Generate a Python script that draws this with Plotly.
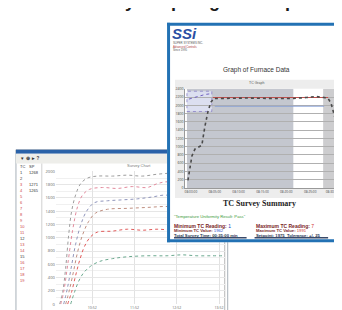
import plotly.graph_objects as go

W, H = 342, 310

# ---------------- data: back window (survey curves) ----------------
back_names = ["TC 1", "TC 2", "TC 3", "TC 4", "TC 5", "TC 6"]
back_colors = ["#9c9c9c", "#e28a9c", "#8f95bb", "#bf8f80", "#e05a5a", "#6aa88e"]
back_x = [
    [5.6, 9.9, 14.1, 18.4, 22.6, 28.2, 35.3, 45.2, 59.3, 80.5, 101.7, 122.9, 144.1, 165.3, 186.4, 214.7, 240],
    [7.1, 11.3, 16.9, 24.0, 31.1, 38.1, 48.0, 66.4, 87.5, 108.7, 129.9, 144.0, 158.1, 179.3, 200.5, 221.7, 240],
    [11.3, 16.9, 22.6, 28.2, 35.3, 43.8, 55.1, 73.4, 94.6, 115.8, 136.9, 155.3, 179.3, 207.6, 240],
    [14.1, 19.8, 25.4, 31.1, 38.1, 46.6, 56.5, 73.4, 101.7, 129.9, 158.1, 186.4, 214.7, 240],
    [16.9, 22.6, 28.2, 33.9, 40.9, 49.4, 59.3, 80.5, 101.7, 122.9, 144.0, 165.2, 193.4, 221.7, 240],
    [21.2, 26.8, 32.5, 39.5, 49.4, 62.1, 80.5, 101.7, 129.9, 158.1, 179.3, 200.5, 221.7, 240],
]
back_y = [
    [0, 186, 543, 1043, 1400, 1643, 1814, 1900, 1929, 1929, 1943, 1929, 1957, 1971, 1943, 1929, 1929],
    [0, 186, 586, 1114, 1471, 1643, 1729, 1757, 1743, 1771, 1757, 1814, 1843, 1800, 1757, 1771, 1757],
    [0, 257, 586, 900, 1186, 1400, 1529, 1557, 1571, 1586, 1614, 1643, 1600, 1571, 1571],
    [0, 229, 500, 786, 1043, 1243, 1371, 1429, 1443, 1457, 1471, 1443, 1443, 1443],
    [0, 186, 429, 657, 871, 1014, 1086, 1100, 1129, 1114, 1129, 1114, 1100, 1114, 1114],
    [0, 186, 343, 471, 571, 643, 686, 714, 729, 729, 743, 729, 729, 729],
]
back_xtick_vals = [52, 112, 172, 232]
back_xtick_text = ["10:52", "11:52", "12:52", "13:52"]
list_col1 = ["TC", "1", "2", "3", "4", "5", "6", "7", "8", "9", "10", "11", "12", "13", "14", "15", "16", "17", "18", "19"]
list_col2 = ["SP", "1268", "", "1271", "1265", "", "", "", "", "", "", "", "", "", "", "", "", "", "", ""]
list_red = [False, False, False, True, True, True, True, True, True, True, True, True, False, True, True, False, True, True, True, True]

# ---------------- data: front report chart ----------------
tc_x = [3, 5, 7, 10, 14, 17, 20, 23, 26, 29, 37, 62, 87, 109, 122, 132, 140, 144, 147, 150, 152]
tc_y = [188, 471, 776, 941, 988, 1035, 1482, 1835, 2071, 2165, 2165, 2176, 2165, 2165, 2188, 2212, 2188, 2165, 2047, 1812, 1600]
hi_x = [28, 144]
hi_y = [2188, 2188]
lo_x = [30, 140]
lo_y = [1976, 1976]
ramp_x = [4, 9, 14, 20, 26]
ramp_y = [2150, 2190, 2230, 2260, 2280]
zone_start = [2, 139]
zone_end = [109, 152]
zone_color = ["#c4c7cf", "#cdcdcf"]
front_xtick_vals = [6, 30, 54, 78, 102, 126, 148]
front_xtick_text = ["08:00:00", "08:05:00", "08:10:00", "08:15:00", "08:20:00", "08:25:00", "08:30:00"]


def px(x):
    return x / W


def py(y):
    return 1 - y / H


fig = go.Figure()

# back chart traces
for name, color, xs, ys in zip(back_names, back_colors, back_x, back_y):
    fig.add_trace(go.Scatter(x=xs, y=ys, mode="lines", name=name,
                             line=dict(color=color, width=1, dash="dot", shape="spline"),
                             xaxis="x", yaxis="y", hoverinfo="skip"))

# panel subplot (front white sheet) - empty trace to create subplot
fig.add_trace(go.Scatter(x=[], y=[], mode="lines", xaxis="x2", yaxis="y2", hoverinfo="skip"))

# front chart traces
fig.add_trace(go.Scatter(x=hi_x, y=hi_y, mode="lines", line=dict(color="#c0504d", width=1.2),
                         xaxis="x3", yaxis="y3", hoverinfo="skip"))
fig.add_trace(go.Scatter(x=lo_x, y=lo_y, mode="lines", line=dict(color="#7f9ad6", width=0.8),
                         xaxis="x3", yaxis="y3", hoverinfo="skip"))
fig.add_trace(go.Scatter(x=ramp_x, y=ramp_y, mode="lines", line=dict(color="#7060c0", width=1, dash="dot"),
                         xaxis="x3", yaxis="y3", hoverinfo="skip"))
fig.add_trace(go.Scatter(x=tc_x, y=tc_y, mode="lines", line=dict(color="#4a4a4a", width=1.6, dash="dot"),
                         xaxis="x3", yaxis="y3", hoverinfo="skip"))

shapes = []
# back window (paper, below)
shapes.append(dict(type="rect", xref="paper", yref="paper", x0=px(8), x1=px(221), y0=py(309), y1=py(141),
                   fillcolor="#ffffff", line=dict(color="#a8b0b8", width=1), layer="below"))
shapes.append(dict(type="rect", xref="paper", yref="paper", x0=px(8), x1=px(221), y0=py(145), y1=py(141),
                   fillcolor="#2a62a8", line=dict(width=0), layer="below"))
shapes.append(dict(type="rect", xref="paper", yref="paper", x0=px(8), x1=px(221), y0=py(155), y1=py(145),
                   fillcolor="#eeeeea", line=dict(width=0), layer="below"))
shapes.append(dict(type="line", xref="paper", yref="paper", x0=px(34), x1=px(34), y0=py(305), y1=py(155),
                   line=dict(color="#d0d0d0", width=1), layer="below"))
shapes.append(dict(type="line", xref="paper", yref="paper", x0=px(218), x1=px(218), y0=py(305), y1=py(155),
                   line=dict(color="#b8b8b8", width=1), layer="below"))

# panel decorations (x2/y2 in pixel units)
shapes.append(dict(type="rect", xref="x2", yref="y2", x0=168, x1=334, y0=70, y1=190,
                   fillcolor="#ededed", line=dict(width=0), layer="below"))
shapes.append(dict(type="line", xref="x2", yref="y2", x0=167, x1=240, y0=230.5, y1=230.5,
                   line=dict(color="#3a4a6a", width=1.5), layer="below"))
shapes.append(dict(type="line", xref="x2", yref="y2", x0=248, x1=322, y0=230.5, y1=230.5,
                   line=dict(color="#3a4a6a", width=1.5), layer="below"))

# front chart zones
for s, e, c in zip(zone_start, zone_end, zone_color):
    shapes.append(dict(type="rect", xref="x3", yref="y3", x0=s, x1=e, y0=0, y1=2400,
                       fillcolor=c, line=dict(width=0), layer="below"))
shapes.append(dict(type="rect", xref="x3", yref="y3", x0=zone_start[0], x1=27, y0=1850, y1=2340,
                   fillcolor="#dcdff0", line=dict(color="#8a80c8", width=0.8, dash="dot"), layer="below"))

# front panel blue border (above)
for (x0, y0, x1, y1) in [(160, 13.5, 342, 13.5), (161.5, 12, 161.5, 235), (160, 233.5, 342, 233.5)]:
    shapes.append(dict(type="line", xref="paper", yref="paper", x0=px(x0), x1=px(x1), y0=py(y0), y1=py(y1),
                       line=dict(color="#2372b4", width=3), layer="above"))

annotations = []


def ann(text, x, y, size, color, xanchor="left", family="Liberation Sans", yanchor="middle"):
    annotations.append(dict(text=text, x=px(x), y=py(y), xref="paper", yref="paper",
                            xanchor=xanchor, yanchor=yanchor, showarrow=False,
                            font=dict(size=size, color=color, family=family), borderpad=0))


# top heading (mostly cut off at the top edge, as in the reference)
ann("<b>Survey Graphing and Reports</b>", 196, 1.5, 18, "#1a1a1a", xanchor="center", yanchor="bottom")

# back window texts
ann("<b>▼ ⊕  ▸ ?</b>", 11, 150, 4.5, "#333333")
for i, (a, b, red) in enumerate(zip(list_col1, list_col2, list_red)):
    yy = 158 + i * 6.1
    col = "#cc4040" if red else "#333333"
    ann(a, 11, yy, 4, col)
    if b:
        ann(b, 20, yy, 4, "#333333")
ann("Survey Chart", 132, 157, 4, "#777777", xanchor="center")

# front panel texts
ann("<b><i>SSi</i></b>", 164, 23, 15, "#2b4fa3")
ann("SUPER SYSTEMS INC.", 165, 33, 2.8, "#555555")
ann("Advanced Controls", 165, 36.5, 2.8, "#b04040")
ann("Since 1995", 165, 40, 2.8, "#555555")
ann("Graph of Furnace Data", 250, 60, 6.5, "#333333", xanchor="center")
ann("TC Graph", 250, 73.5, 3.5, "#555555", xanchor="center")
ann("<b>TC Survey Summary</b>", 253, 196, 8, "#222222", xanchor="center", family="Liberation Serif")
ann("\"Temperature Uniformity Result: Pass\"", 166, 209, 4.2, "#3e9a3e")
ann("<b>Minimum TC Reading:</b> <span style='color:#2040c0'>1</span>", 166, 218.5, 5, "#7a2525")
ann("<b>Minimum TC Value:</b> <span style='color:#3050d0'>1962</span>", 166, 223.5, 4.2, "#7a2525")
ann("<b>Total Survey Time: 00:35:00 min</b>", 166, 228.5, 4.2, "#2a3550")
ann("<b>Maximum TC Reading:</b> <span style='color:#d03030'>7</span>", 248, 218.5, 5, "#7a2525")
ann("<b>Maximum TC Value:</b> <span style='color:#d03030'>1991</span>", 248, 223.5, 4.2, "#7a2525")
ann("<b>Setpoint: 1975  Tolerance: +/- 25</b>", 248, 228.5, 4.2, "#2a3550")

fig.update_layout(
    width=W, height=H, margin=dict(l=0, r=0, t=0, b=0),
    paper_bgcolor="#ffffff", plot_bgcolor="#ffffff", showlegend=False,
    shapes=shapes, annotations=annotations,
    xaxis=dict(domain=[px(48), px(218)], range=[0, 240], anchor="y",
               tickvals=back_xtick_vals, ticktext=back_xtick_text, tickangle=0,
               tickfont=dict(size=3.5, color="#666666"), showgrid=True, gridcolor="#e2e2e2", gridwidth=0.6,
               zeroline=False, showline=False, ticks=""),
    yaxis=dict(domain=[py(298), py(163)], range=[0, 2000], anchor="x", dtick=200,
               tickfont=dict(size=4, color="#666666"), showgrid=True, gridcolor="#e6e6e6", gridwidth=0.6,
               minor=dict(dtick=100, showgrid=True, gridcolor="#f0f0f0", gridwidth=0.5),
               zeroline=False, showline=False, ticks=""),
    xaxis2=dict(domain=[px(160), 1], range=[160, 342], anchor="y2", visible=False),
    yaxis2=dict(domain=[py(235), py(12)], range=[235, 12], anchor="x2", visible=False),
    xaxis3=dict(domain=[px(178), px(330)], range=[0, 152], anchor="y3",
                tickvals=front_xtick_vals, ticktext=front_xtick_text, tickangle=0,
                tickfont=dict(size=3.2, color="#444444"), showgrid=False, zeroline=False,
                showline=True, linecolor="#999999", linewidth=0.6, ticks=""),
    yaxis3=dict(domain=[py(180), py(79)], range=[0, 2400], anchor="x3", dtick=200,
                tickfont=dict(size=3.5, color="#444444"), showgrid=True, gridcolor="#b0b0b0", gridwidth=0.5,
                zeroline=False, showline=True, linecolor="#999999", linewidth=0.6, ticks=""),
)

fig.write_html("out.html")
